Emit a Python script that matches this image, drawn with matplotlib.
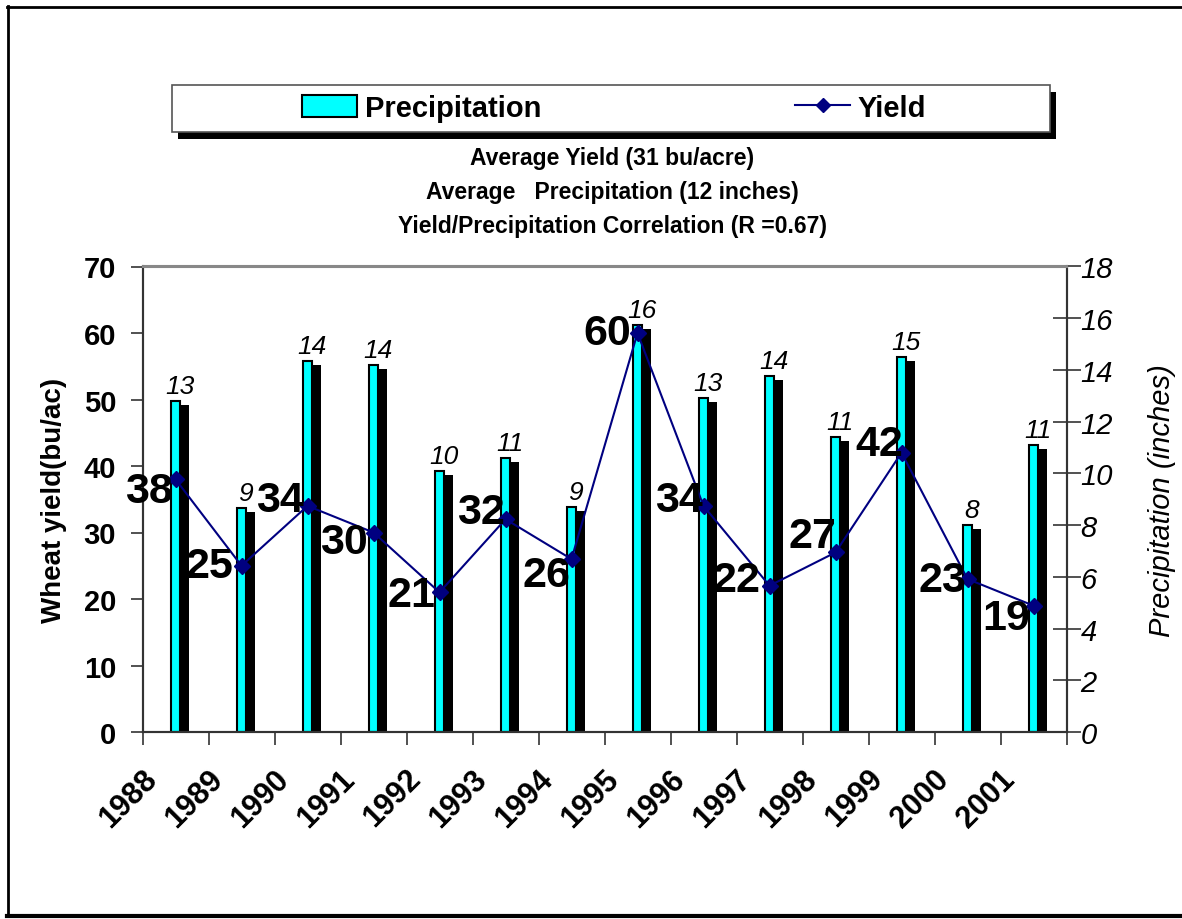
import numpy as np
import matplotlib
matplotlib.use('Agg')
import matplotlib.pyplot as plt
import matplotlib.patheffects as pe
from matplotlib.patches import Rectangle
from matplotlib.lines import Line2D

plt.rcParams['font.family'] = ['Liberation Sans', 'DejaVu Sans']

# Данные
years = ['1988', '1989', '1990', '1991', '1992', '1993', '1994',
         '1995', '1996', '1997', '1998', '1999', '2000', '2001']
precip = [12.8, 8.65, 14.35, 14.2, 10.1, 10.6, 8.7,
          15.75, 12.9, 13.75, 11.4, 14.5, 8.0, 11.1]
precip_labels = ['13', '9', '14', '14', '10', '11', '9',
                 '16', '13', '14', '11', '15', '8', '11']
yield_bu = [38, 25, 34, 30, 21, 32, 26, 60, 34, 22, 27, 42, 23, 19]

# Сдвиги подписей урожая (пиксели)
label_dx = [-2, -7, -3, -5, -3, 0, 0, -5, 0, -8, 2, 3, 0, -2]
label_dy = [-12, 0, 6, -9, -3, 7, -16, 0, 6, 6, 16, 9, -1, -12]

W, H = 1182, 920
fig = plt.figure(figsize=(W / 100, H / 100), dpi=100)

ax = fig.add_axes([142.5 / W, 1 - 733 / H, 924 / W, 465.5 / H])
ax2 = ax.twinx()
ax.set_zorder(ax2.get_zorder() + 1)
ax.patch.set_visible(False)

x = np.arange(len(years))

# Столбцы осадков с тенью
bars = ax2.bar(x, precip, width=0.15, color='#00FFFF', edgecolor='black', linewidth=1.5,
               path_effects=[pe.SimplePatchShadow(offset=(5.8, -2.9), shadow_rgbFace='black', alpha=1),
                             pe.Normal()])
ax2.set_ylim(0, 18)
ax2.set_yticks(range(0, 19, 2))
for xi, p, lab in zip(x, precip, precip_labels):
    ax2.annotate(lab, (xi, p), xytext=(4, 3), textcoords='offset pixels',
                 ha='center', va='bottom', fontsize=19, fontstyle='italic')

# Линия урожайности
line, = ax.plot(x, yield_bu, color='#000080', lw=1.5, marker='D', markersize=8,
                markerfacecolor='#000080', markeredgecolor='#000080', zorder=5)
ax.set_ylim(0, 70)
ax.set_xlim(-0.5, len(years) - 0.5)
ax.set_yticks(range(0, 71, 10))
for xi, yv, dx, dy in zip(x, yield_bu, label_dx, label_dy):
    ax.annotate(str(yv), (xi, yv), xytext=(dx - 1, dy), textcoords='offset pixels',
                ha='right', va='center', fontsize=31, fontweight='bold', zorder=6)

# Оси
ax.set_xticks(np.arange(len(years) + 1) - 0.5, minor=False)
ax.set_xticklabels([])
ax.tick_params(axis='x', direction='out', length=9, width=1.2, color='#333333')
for xi, yr in zip(x, years):
    ax.annotate(yr, (xi - 0.35, 0), xycoords=('data', 'axes fraction'),
                xytext=(0, -42), textcoords='offset pixels',
                ha='right', va='center', rotation=45, rotation_mode='anchor',
                fontsize=22, fontweight='bold', annotation_clip=False)
ax.tick_params(axis='y', direction='out', length=9, width=1.2, color='#333333',
               labelsize=21, pad=10)
for t in ax.get_yticklabels():
    t.set_fontweight('bold')
ax2.tick_params(axis='y', direction='inout', length=20, width=1.2, color='#333333',
                labelsize=21, pad=0)
for t in ax2.get_yticklabels():
    t.set_fontstyle('italic')

for a in (ax, ax2):
    a.spines['top'].set_color('#888888')
    a.spines['top'].set_linewidth(1.5)
    for s in ('left', 'right', 'bottom'):
        a.spines[s].set_color('#333333')
        a.spines[s].set_linewidth(1.5)

ax.set_ylabel('Wheat yield(bu/ac)', fontsize=20, fontweight='bold', labelpad=12)
ax2.set_ylabel('Precipitation (inches)', fontsize=21, fontstyle='italic', labelpad=25)

# Легенда
fig.add_artist(Rectangle((178 / W, 1 - 140 / H), 878 / W, 47 / H, transform=fig.transFigure,
                         facecolor='black', edgecolor='none'))
fig.add_artist(Rectangle((172 / W, 1 - 133 / H), 878 / W, 47 / H, transform=fig.transFigure,
                         facecolor='white', edgecolor='#555555', lw=1.2))
h_bar = Rectangle((0, 0), 1, 1, facecolor='#00FFFF', edgecolor='black', lw=1.5)
h_line = Line2D([], [], color='#000080', lw=1.5, marker='D', markersize=7)
fig.legend([h_bar, h_line], ['Precipitation', 'Yield'], loc='center',
           bbox_to_anchor=(614 / W, 1 - 109 / H), ncol=2, frameon=False,
           prop={'size': 21, 'weight': 'bold'}, handlelength=1.9, handleheight=0.8,
           handletextpad=0.25, columnspacing=8.7, borderpad=0.2)

# Подзаголовки
sub_kw = dict(ha='center', va='center', fontsize=16.5, fontweight='bold')
fig.text(612 / W, 1 - 159 / H, 'Average Yield (31 bu/acre)', **sub_kw)
fig.text(612 / W, 1 - 192 / H, 'Average   Precipitation (12 inches)', **sub_kw)
fig.text(612 / W, 1 - 226 / H, 'Yield/Precipitation Correlation (R =0.67)', **sub_kw)

# Рамка рисунка
fig.add_artist(Line2D([7.5 / W, 7.5 / W], [1 - 917 / H, 1 - 7 / H], transform=fig.transFigure,
                      color='black', lw=2))
fig.add_artist(Line2D([7 / W, 1], [1 - 7.5 / H, 1 - 7.5 / H], transform=fig.transFigure,
                      color='black', lw=2))
fig.add_artist(Line2D([7 / W, 1], [1 - 917 / H, 1 - 917 / H], transform=fig.transFigure,
                      color='black', lw=3))

fig.savefig('out.png', dpi=100)
